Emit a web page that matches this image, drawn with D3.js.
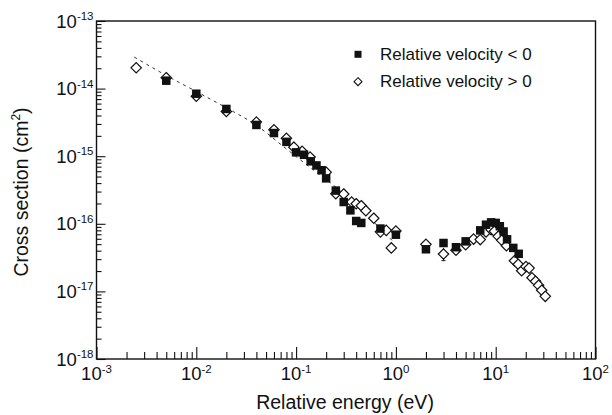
<!DOCTYPE html>
<html>
<head>
<meta charset="utf-8">
<script src="https://cdn.jsdelivr.net/npm/d3@7"></script>
<style>
  html, body { margin: 0; padding: 0; background: #fff; }
  svg { display: block; font-family: "Liberation Sans", Arial, Helvetica, sans-serif; }
</style>
</head>
<body>
<svg id="chart" width="612" height="415"></svg>
<script>
// ---- data ----
// Relative velocity < 0 (filled squares): energy in eV, cross section in cm^2
const negEnergy = [0.005, 0.01, 0.02, 0.04, 0.06, 0.08, 0.1, 0.12, 0.14, 0.16, 0.18, 0.2, 0.25, 0.3, 0.35, 0.4, 0.45, 0.7, 1.0,
                   2, 3, 4, 5, 7, 8, 9, 10, 11, 12, 13, 15, 17];
const negSigma  = [1.31e-14, 8.4e-15, 5.0e-15, 2.9e-15, 2.2e-15, 1.63e-15, 1.14e-15, 1.05e-15, 8.4e-16, 7.3e-16, 6.2e-16, 4.7e-16, 3.1e-16, 2.1e-16, 1.58e-16, 1.1e-16, 1.03e-16, 8.5e-17, 6.9e-17,
                   4.2e-17, 5.2e-17, 4.5e-17, 5.5e-17, 8.0e-17, 9.7e-17, 1.05e-16, 1.03e-16, 9.2e-17, 7.7e-17, 5.9e-17, 4.4e-17, 3.6e-17];
// Relative velocity > 0 (open diamonds)
const posEnergy = [0.0025, 0.005, 0.01, 0.02, 0.04, 0.06, 0.08, 0.095, 0.115, 0.138, 0.2, 0.25, 0.3, 0.36, 0.4, 0.45, 0.5, 0.6, 0.7, 0.8, 0.9, 1.0,
                   2, 3, 4, 5, 6, 7, 8, 9, 9.7, 10.6, 11.5, 12.8, 15.4, 16.8, 18.2, 20.1, 21.6, 23.1, 25.1, 26.9, 28.9, 31.4];
const posSigma  = [2.03e-14, 1.45e-14, 7.7e-15, 4.6e-15, 3.2e-15, 2.46e-15, 1.84e-15, 1.36e-15, 1.18e-15, 9.7e-16, 5.8e-16, 2.78e-16, 2.76e-16, 2.1e-16, 1.98e-16, 1.85e-16, 1.56e-16, 1.21e-16, 7.6e-17, 8.0e-17, 4.4e-17, 7.8e-17,
                   4.97e-17, 3.57e-17, 4.06e-17, 4.9e-17, 5.94e-17, 5.84e-17, 7.57e-17, 8.2e-17, 7.75e-17, 6.53e-17, 5.7e-17, 4.73e-17, 2.84e-17, 2.52e-17, 2.02e-17, 2.33e-17, 2.21e-17, 1.59e-17, 1.41e-17, 1.23e-17, 1.04e-17, 8.45e-18];
// error bar on the open point at 3 eV
const errEnergy = [3];
const errLow  = [2.85e-17];
const errHigh = [4.4e-17];
// dashed theoretical curve
const curveEnergy = [0.00239, 0.00497, 0.00993, 0.0195, 0.0387, 0.0775, 0.130, 0.255, 0.457, 0.914];
const curveSigma  = [2.93e-14, 1.57e-14, 9.1e-15, 5.3e-15, 2.96e-15, 1.33e-15, 7.3e-16, 3.39e-16, 1.56e-16, 5.7e-17];
// axes
const xDomain = [1e-3, 1e2];
const yDomain = [1e-18, 1e-13];
const xMajorExp = [-3, -2, -1, 0, 1, 2];
const yMajorExp = [-18, -17, -16, -15, -14, -13];
const legendLabels = ["Relative velocity < 0", "Relative velocity > 0"];
const xTitle = "Relative energy (eV)";
const yTitle = "Cross section (cm";

// ---- layout ----
const L = 96.5, R = 595.5, T = 21, B = 359;
const svg = d3.select("#chart");
const x = d3.scaleLog().domain(xDomain).range([L, R]);
const y = d3.scaleLog().domain(yDomain).range([B, T]);

const isMajor = v => Math.abs(Math.log10(v) - Math.round(Math.log10(v))) < 1e-9;

// bottom axis: minor + major inward ticks
const xMinor = x.ticks().filter(v => !isMajor(v));
const xMajor = xMajorExp.map(e => Math.pow(10, e));
svg.append("g").attr("transform", `translate(0,${B})`)
  .call(d3.axisBottom(x).tickValues(xMinor).tickSize(-7).tickFormat(""))
  .call(g => g.select(".domain").remove());
svg.append("g").attr("transform", `translate(0,${B})`)
  .call(d3.axisBottom(x).tickValues(xMajor).tickSize(-12).tickFormat(""))
  .call(g => g.select(".domain").remove());

// left axis
const yMinor = y.ticks().filter(v => !isMajor(v));
const yMajor = yMajorExp.map(e => Math.pow(10, e));
svg.append("g").attr("transform", `translate(${L},0)`)
  .call(d3.axisLeft(y).tickValues(yMinor).tickSize(-5).tickFormat(""))
  .call(g => g.select(".domain").remove());
svg.append("g").attr("transform", `translate(${L},0)`)
  .call(d3.axisLeft(y).tickValues(yMajor).tickSize(-9).tickFormat(""))
  .call(g => g.select(".domain").remove());

svg.selectAll(".tick line").attr("stroke", "#111").attr("stroke-width", 1.1);

// frame
svg.append("rect").attr("x", L).attr("y", T).attr("width", R - L).attr("height", B - T)
  .attr("fill", "none").attr("stroke", "#111").attr("stroke-width", 1.4);

// tick labels
const xl = svg.append("g").attr("font-size", 18.5).attr("fill", "#111");
xMajorExp.forEach(e => {
  const t = xl.append("text").attr("x", x(Math.pow(10, e))).attr("y", B + 21).attr("text-anchor", "middle");
  t.append("tspan").text("10");
  t.append("tspan").attr("font-size", 11.5).attr("dy", -7.5).text(e);
});
const yl = svg.append("g").attr("font-size", 18.5).attr("fill", "#111");
yMajorExp.forEach(e => {
  const t = yl.append("text").attr("x", L - 3).attr("y", y(Math.pow(10, e)) + 6.5).attr("text-anchor", "end");
  t.append("tspan").text("10");
  t.append("tspan").attr("font-size", 11.5).attr("dy", -7.5).text(e);
});

// axis titles
svg.append("text").attr("x", 345).attr("y", 409).attr("text-anchor", "middle")
  .attr("font-size", 19.5).attr("fill", "#111").text(xTitle);
const yt = svg.append("text").attr("transform", `translate(28,${(T + B) / 2 + 2}) rotate(-90)`)
  .attr("text-anchor", "middle").attr("font-size", 19.5).attr("fill", "#111");
yt.append("tspan").text(yTitle);
yt.append("tspan").attr("font-size", 12).attr("dy", -8).text("2");
yt.append("tspan").attr("dy", 8).text(")");

// dashed curve
const curveData = curveEnergy.map((e, i) => ({ e, s: curveSigma[i] }));
svg.append("path").datum(curveData)
  .attr("d", d3.line().x(d => x(d.e)).y(d => y(d.s)).curve(d3.curveMonotoneX))
  .attr("fill", "none").attr("stroke", "#333").attr("stroke-width", 1).attr("stroke-dasharray", "3,4");

// error bars
errEnergy.forEach((e, i) => {
  svg.append("line").attr("x1", x(e)).attr("x2", x(e)).attr("y1", y(errHigh[i])).attr("y2", y(errLow[i]))
    .attr("stroke", "#111").attr("stroke-width", 1);
  svg.append("line").attr("x1", x(e) - 2).attr("x2", x(e) + 2).attr("y1", y(errLow[i])).attr("y2", y(errLow[i]))
    .attr("stroke", "#111").attr("stroke-width", 1);
});

// open diamonds
const diamond = (cx, cy, r) => `M${cx},${cy - r}L${cx + r},${cy}L${cx},${cy + r}L${cx - r},${cy}Z`;
const posData = posEnergy.map((e, i) => ({ e, s: posSigma[i] }));
svg.append("g").selectAll("path").data(posData).join("path")
  .attr("d", d => diamond(x(d.e), y(d.s), 5.2))
  .attr("fill", "#fff").attr("stroke", "#111").attr("stroke-width", 1.2);

// filled squares
const negData = negEnergy.map((e, i) => ({ e, s: negSigma[i] }));
const sq = 8.5;
svg.append("g").selectAll("rect").data(negData).join("rect")
  .attr("x", d => x(d.e) - sq / 2).attr("y", d => y(d.s) - sq / 2)
  .attr("width", sq).attr("height", sq).attr("fill", "#111");

// legend
const lg = svg.append("g").attr("font-size", 17).attr("fill", "#111");
lg.append("rect").attr("x", 358 - 3.5).attr("y", 54.3 - 3.5).attr("width", 7).attr("height", 7).attr("fill", "#111");
lg.append("path").attr("d", diamond(358, 81.7, 4)).attr("fill", "#fff").attr("stroke", "#111").attr("stroke-width", 1.1);
lg.append("text").attr("x", 380).attr("y", 59.5).text(legendLabels[0]);
lg.append("text").attr("x", 380).attr("y", 87).text(legendLabels[1]);
</script>
</body>
</html>
